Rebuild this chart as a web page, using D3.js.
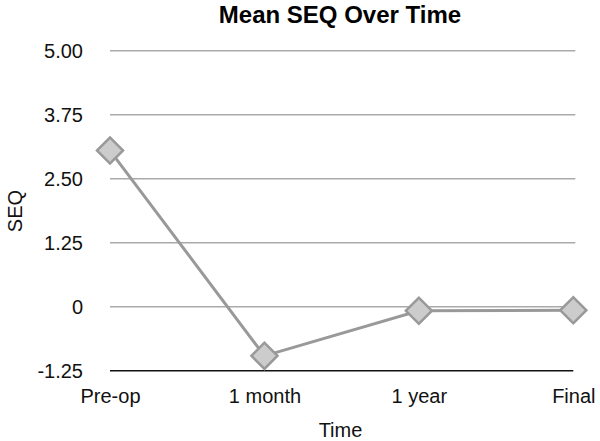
<!DOCTYPE html>
<html><head><meta charset="utf-8">
<script src="https://cdn.jsdelivr.net/npm/d3@7"></script>
<style>body{margin:0;background:#fff}</style>
</head><body>
<svg id="c" width="600" height="441"></svg>
<script>
const categories = ["Pre-op", "1 month", "1 year", "Final"];
const seqValues = [3.05, -0.96, -0.08, -0.07];
const yTicks = [-1.25, 0, 1.25, 2.5, 3.75, 5.0];
const yTickLabels = ["-1.25", "0", "1.25", "2.50", "3.75", "5.00"];

const svg = d3.select("#c");
const font = "'Liberation Sans', Arial, Helvetica, sans-serif";
const plotLeft = 110, plotRight = 573.3, plotTop = 50.7, plotBottom = 370.7;

const x = d3.scalePoint().domain(categories).range([plotLeft, plotRight]);
const y = d3.scaleLinear().domain([-1.25, 5]).range([plotBottom, plotTop]);

// gridlines
svg.append("g").selectAll("line").data(yTicks.filter(d => d !== -1.25)).join("line")
  .attr("x1", plotLeft).attr("x2", plotRight + 2)
  .attr("y1", d => y(d)).attr("y2", d => y(d))
  .attr("stroke", "#aaaaaa").attr("stroke-width", 1.5);

// y axis labels
const yAxis = d3.axisLeft(y).tickValues(yTicks).tickSize(0).tickPadding(0)
  .tickFormat(d => yTickLabels[yTicks.indexOf(d)]);
const ya = svg.append("g").attr("transform", "translate(83,0)").call(yAxis);
ya.select(".domain").remove();
ya.selectAll("text").attr("font-family", font).attr("font-size", 20).attr("fill", "#111");

// x axis
const xAxis = d3.axisBottom(x).tickSize(0).tickPadding(0);
const xa = svg.append("g").attr("transform", `translate(0,${plotBottom})`).call(xAxis);
xa.select(".domain").remove();
xa.selectAll("text").attr("font-family", font).attr("font-size", 20).attr("fill", "#111")
  .attr("dy", null).attr("y", 32);
svg.append("line").attr("x1", plotLeft).attr("x2", plotRight)
  .attr("y1", plotBottom).attr("y2", plotBottom).attr("stroke", "#111").attr("stroke-width", 1.6);

// line
const line = d3.line().x((d, i) => x(categories[i])).y(d => y(d));
svg.append("path").datum(seqValues).attr("d", line)
  .attr("fill", "none").attr("stroke", "#999999").attr("stroke-width", 3);

// markers
svg.append("g").selectAll("path").data(seqValues).join("path")
  .attr("transform", (d, i) => `translate(${x(categories[i])},${y(d)}) rotate(45)`)
  .attr("d", d3.symbol().type(d3.symbolSquare).size(340))
  .attr("fill", "#cccccc").attr("stroke", "#999999").attr("stroke-width", 2.5);

// title
svg.append("text").attr("x", 340).attr("y", 23).attr("text-anchor", "middle")
  .attr("font-family", font).attr("font-size", 24).attr("font-weight", "bold")
  .attr("fill", "#000").text("Mean SEQ Over Time");

// axis titles
svg.append("text").attr("x", 340.5).attr("y", 437).attr("text-anchor", "middle")
  .attr("font-family", font).attr("font-size", 20).attr("fill", "#111").text("Time");
svg.append("text").attr("transform", "translate(22,211) rotate(-90)").attr("text-anchor", "middle")
  .attr("font-family", font).attr("font-size", 20).attr("fill", "#111").text("SEQ");
</script>
</body></html>
